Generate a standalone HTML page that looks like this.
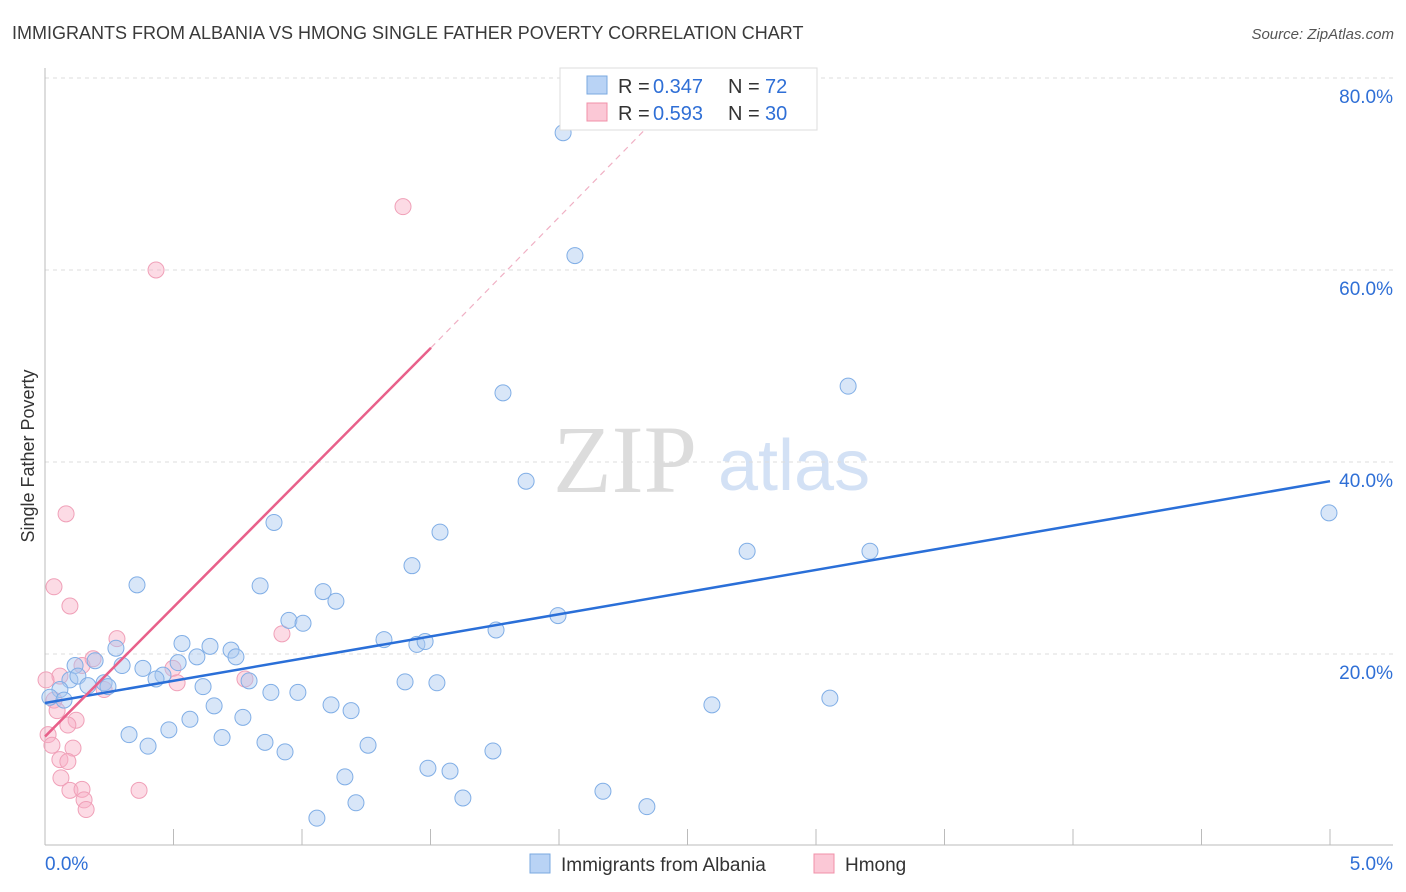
<!DOCTYPE html>
<html><head><meta charset="utf-8"><style>
body{margin:0;background:#fff;font-family:"Liberation Sans",sans-serif;}
svg{display:block}
</style></head><body>
<svg id="chart" width="1406" height="892" xmlns="http://www.w3.org/2000/svg">
<text x="12" y="39" font-size="18" fill="#3a3a3a">IMMIGRANTS FROM ALBANIA VS HMONG SINGLE FATHER POVERTY CORRELATION CHART</text>
<text x="1394" y="39" font-size="15" fill="#555" font-style="italic" text-anchor="end">Source: ZipAtlas.com</text>
<g>
<text x="553" y="492" font-size="96" font-family="Liberation Serif,serif" fill="#dcdcdc">ZIP</text>
<text x="718" y="490" font-size="72" fill="#d3e1f5">atlas</text>
</g>
<g id="grid"></g>
<g id="axes"></g>
<g id="marks"></g>
<text transform="translate(34,456) rotate(-90)" font-size="18" fill="#333" text-anchor="middle">Single Father Poverty</text>
<g>
<rect x="560" y="68" width="257" height="62" fill="#fff" stroke="#ddd"/>
<rect x="587" y="76" width="20" height="18" fill="#b9d3f5" stroke="#7aa8e0"/>
<rect x="587" y="103" width="20" height="18" fill="#fbc8d6" stroke="#f090a8"/>
<text x="618" y="93" font-size="20" fill="#333">R =</text>
<text x="653" y="93" font-size="20" fill="#2f6fd6">0.347</text>
<text x="728" y="93" font-size="20" fill="#333">N =</text>
<text x="765" y="93" font-size="20" fill="#2f6fd6">72</text>
<text x="618" y="120" font-size="20" fill="#333">R =</text>
<text x="653" y="120" font-size="20" fill="#2f6fd6">0.593</text>
<text x="728" y="120" font-size="20" fill="#333">N =</text>
<text x="765" y="120" font-size="20" fill="#2f6fd6">30</text>
</g>
<g>
<rect x="530" y="854" width="20" height="19" fill="#b9d3f5" stroke="#7aa8e0"/>
<text x="561" y="871" font-size="19" fill="#333">Immigrants from Albania</text>
<rect x="814" y="854" width="20" height="19" fill="#fbc8d6" stroke="#f090a8"/>
<text x="845" y="871" font-size="19" fill="#333">Hmong</text>
</g>
</svg>
<script>
const yTicks=[20,40,60,80];
const xTickLabels=["0.0%","5.0%"];
const blueX=[2.016,2.062,1.782,3.125,1.872,4.996,0.891,1.537,2.732,3.210,1.428,0.358,0.837,1.082,1.132,0.949,1.004,1.996,1.755,1.319,1.447,1.479,0.533,0.642,0.276,0.724,0.743,0.591,0.195,0.518,0.300,0.381,0.459,0.432,0.117,0.097,0.128,0.230,0.245,0.167,0.058,0.019,0.074,0.615,0.879,0.984,1.401,1.525,0.794,0.658,1.113,1.191,0.770,0.564,2.595,3.054,0.327,0.401,0.482,0.689,0.856,0.934,1.257,1.743,1.490,1.576,1.167,1.210,1.626,2.171,2.342,1.058];
const blueY=[74.3,61.5,47.2,47.9,38.0,34.7,33.7,32.7,30.7,30.7,29.2,27.2,27.1,26.5,25.5,23.5,23.2,24.0,22.5,21.5,21.0,21.3,21.1,20.8,20.6,20.4,19.7,19.7,19.3,19.1,18.8,18.5,17.8,17.4,18.8,17.3,17.7,17.0,16.6,16.7,16.3,15.5,15.2,16.6,16.0,16.0,17.1,17.0,17.2,14.6,14.7,14.1,13.4,13.2,14.7,15.4,11.6,10.4,12.1,11.3,10.8,9.8,10.5,9.9,8.1,7.8,7.2,4.5,5.0,5.7,4.1,2.9];
const pinkX=[1.393,0.432,0.082,0.035,0.097,0.922,0.280,0.187,0.144,0.058,0.004,0.498,0.514,0.778,0.230,0.035,0.047,0.121,0.089,0.012,0.027,0.109,0.058,0.089,0.062,0.097,0.144,0.152,0.160,0.366];
const pinkY=[66.6,60.0,34.6,27.0,25.0,22.1,21.6,19.5,18.8,17.7,17.3,18.5,17.0,17.4,16.3,15.2,14.1,13.1,12.6,11.6,10.5,10.2,9.0,8.8,7.1,5.8,5.9,4.8,3.8,5.8];
const blueTrend=[14.9,38.0];
const pinkTrend=[11.4,51.9,75.6];
const pinkTrendX=[0,1.502,2.37];
const NS="http://www.w3.org/2000/svg";
const xs=v=>45+v*257, ys=v=>846-v*9.6;
function mk(tag,attrs,parent){const e=document.createElementNS(NS,tag);for(const k in attrs)e.setAttribute(k,attrs[k]);parent.appendChild(e);return e;}
const grid=document.getElementById('grid'),axes=document.getElementById('axes'),marks=document.getElementById('marks');
yTicks.forEach(t=>{
 const l=mk('line',{x1:45,x2:1393,y1:ys(t),y2:ys(t),stroke:'#ddd','stroke-dasharray':'4,4'},grid);
 
 
 const tx=mk('text',{x:1393,y:ys(t)+25,'font-size':19,fill:'#2f6fd6','text-anchor':'end'},axes);
 tx.textContent=t.toFixed(1)+'%';
 
 
});
const ax=mk('line',{x1:45,x2:1393,y1:845,y2:845,stroke:'#bbb'},axes);


const ay=mk('line',{x1:45,x2:45,y1:68,y2:845,stroke:'#bbb'},axes);


for(let i=0;i<=10;i++){
 const t=mk('line',{x1:xs(i*0.5),x2:xs(i*0.5),y1:829,y2:845,stroke:'#bbb'},axes);
 
 
}
[[0,'start',45],[5,'end',1393]].forEach((p,i)=>{
 const tx=mk('text',{x:p[2],y:870,'font-size':19,fill:'#2f6fd6','text-anchor':p[1]},axes);
 tx.textContent=xTickLabels[i];
 
 
});
pinkX.forEach((v,i)=>{
 const c=mk('circle',{cx:xs(v),cy:ys(pinkY[i]),r:8,fill:'rgba(248,176,198,0.45)',stroke:'#f0a0b8','stroke-width':1},marks);
 
 
});
blueX.forEach((v,i)=>{
 const c=mk('circle',{cx:xs(v),cy:ys(blueY[i]),r:8,fill:'rgba(168,200,240,0.45)',stroke:'#80aee6','stroke-width':1},marks);
 
 
});
const bl=mk('line',{x1:xs(0),y1:ys(blueTrend[0]),x2:xs(5),y2:ys(blueTrend[1]),stroke:'#2a6fd8','stroke-width':2.5},marks);


const pl=mk('line',{x1:xs(pinkTrendX[0]),y1:ys(pinkTrend[0]),x2:xs(pinkTrendX[1]),y2:ys(pinkTrend[1]),stroke:'#e8608a','stroke-width':2.5},marks);


const pd=mk('line',{x1:xs(pinkTrendX[1]),y1:ys(pinkTrend[1]),x2:xs(pinkTrendX[2]),y2:ys(pinkTrend[2]),stroke:'#f0b0c4','stroke-width':1.2,'stroke-dasharray':'6,5'},marks);


</script>
</body></html>
